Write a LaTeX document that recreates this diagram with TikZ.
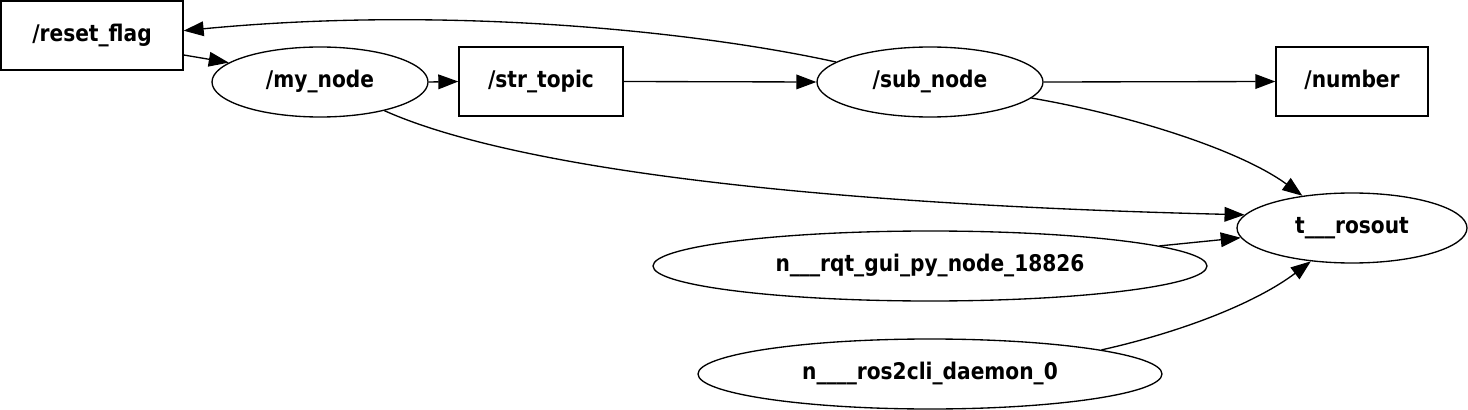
\documentclass[tikz,border=0pt]{standalone}
\usepackage{fontspec}
\setmainfont{DejaVu Sans}[FakeStretch=0.88]
\usepackage{tikz}
\usetikzlibrary{shapes.geometric}
\usetikzlibrary{arrows.meta}

\tikzset{
  topicbox/.style={rectangle,draw=black,line width=1pt,inner sep=0pt,minimum height=51.75pt,text height=0.85em,text depth=0pt,font=\fontsize{17.2}{18}\selectfont\bfseries},
  nodeell/.style={ellipse,draw=black,line width=1pt,inner sep=0pt,minimum height=52.5pt,text height=0.85em,text depth=0pt,font=\fontsize{17.2}{18}\selectfont\bfseries},
  conn/.style={line width=1pt,-{Triangle[length=15pt,width=11pt]}}
}

\begin{document}
\begin{tikzpicture}[x=0.75pt,y=-0.75pt]
\useasboundingbox (0,0) rectangle (1468,410);
\node[topicbox,minimum width=136.5pt] (reset) at (92,35.5) {/reset\_flag};
\node[nodeell,minimum width=162pt] (mynode) at (320,82) {/my\_node};
\node[topicbox,minimum width=123pt] (strtopic) at (541,81.5) {/str\_topic};
\node[nodeell,minimum width=169.5pt] (subnode) at (930,82) {/sub\_node};
\node[topicbox,minimum width=114pt] (number) at (1352,81.5) {/number};
\node[nodeell,minimum width=172.5pt] (rosout) at (1352,228) {t\_\_\_rosout};
\node[nodeell,minimum width=415.5pt] (rqt) at (930,266) {n\_\_\_rqt\_gui\_py\_node\_18826};
\node[nodeell,minimum width=348pt] (daemon) at (930,374) {n\_\_\_\_ros2cli\_daemon\_0};

\draw[conn] (reset.-12) -- (mynode.168);
\draw[conn] (mynode.east) -- (strtopic.west);
\draw[conn] (strtopic.east) -- (subnode.west);
\draw[conn] (subnode.east) -- (number.west);
\draw[conn] (subnode.168) .. controls (700,32) and (450,5) .. (reset.3.5);
\draw[conn] (subnode.-9) .. controls (1130,115) and (1240,150) .. (rosout.147);
\draw[conn] (mynode.-24) .. controls (450,140) and (640,200) .. (rosout.173);
\draw[conn] (rqt.5) -- (rosout.185);
\draw[conn] (daemon.8) .. controls (1190,330) and (1260,300) .. (rosout.219);
\end{tikzpicture}
\end{document}
